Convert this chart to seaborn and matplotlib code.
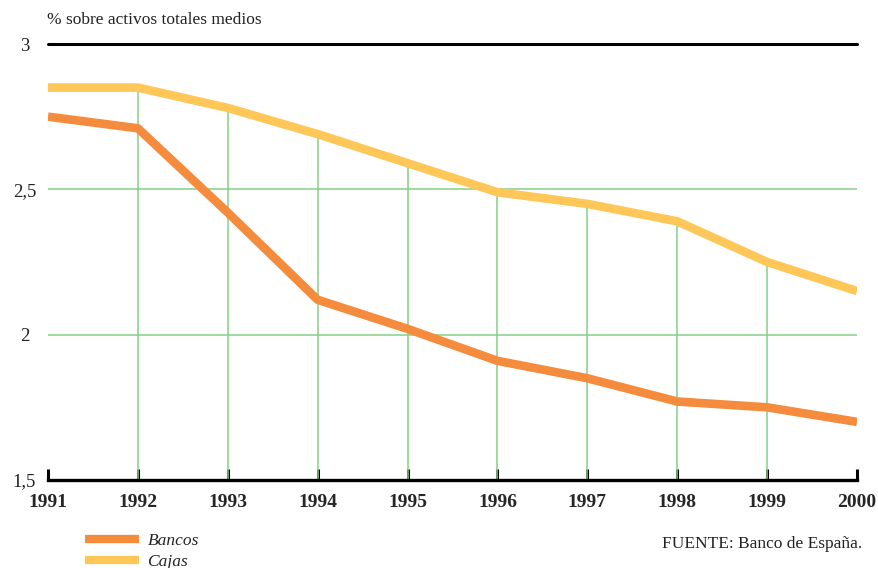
"""Rentabilidad sobre activos totales medios: Bancos vs Cajas (1991-2000)."""

import matplotlib

matplotlib.use("Agg")

import matplotlib.pyplot as plt
import seaborn as sns
import pandas as pd

years = [1991, 1992, 1993, 1994, 1995, 1996, 1997, 1998, 1999, 2000]
bancos = [2.75, 2.71, 2.42, 2.12, 2.02, 1.91, 1.85, 1.77, 1.75, 1.70]
cajas = [2.85, 2.85, 2.78, 2.69, 2.59, 2.49, 2.45, 2.39, 2.25, 2.15]
ytick_vals = [1.5, 2, 2.5, 3]
ytick_labels = ["1,5", "2", "2,5", "3"]

COLORS = {"Bancos": "#f58b3d", "Cajas": "#ffc658"}
GRID = "#86cf86"

sns.set_theme(style="white")
plt.rcParams["font.family"] = ["Liberation Serif", "DejaVu Serif"]

df = pd.DataFrame({"year": years, "Bancos": bancos, "Cajas": cajas})
long = df.melt(id_vars="year", var_name="serie", value_name="valor")

fig = plt.figure(figsize=(8.79, 5.68), dpi=100)
ax = fig.add_axes([48 / 879, 1 - 480 / 568, (857 - 48) / 879, (480 - 44) / 568])

# grid: horizontal full width, vertical up to the Cajas line
for v in ytick_vals[1:-1]:
    ax.axhline(v, color=GRID, lw=1.1, zorder=1)
ax.vlines(years[1:-1], 1.5, cajas[1:-1], color=GRID, lw=1.1, zorder=1)

sns.lineplot(
    data=long, x="year", y="valor", hue="serie", palette=COLORS,
    lw=6.2, ax=ax, legend=False, zorder=3, solid_capstyle="butt",
)

ax.axhline(3, color="black", lw=2.2, clip_on=False, zorder=4)

ax.set_xlim(1991, 2000)
ax.set_ylim(1.5, 3)
ax.set_xticks(years)
ax.set_xticklabels([str(y) for y in years], fontweight="bold", fontsize=14)
ax.set_yticks(ytick_vals)
ax.set_yticklabels(ytick_labels, fontsize=13.5, color="#222222")
for lab in ax.get_yticklabels():
    lab.set_horizontalalignment("center")
ax.tick_params(axis="y", left=True, length=0, pad=17)
ax.tick_params(axis="x", bottom=True, direction="in", length=8, width=2.2,
               color="black", pad=10)
ax.set_xlabel("")
ax.set_ylabel("")

for s in ["top", "right", "left"]:
    ax.spines[s].set_visible(False)
ax.spines["bottom"].set_color("black")
ax.spines["bottom"].set_linewidth(2.4)

fig.text(47 / 879, 1 - 20 / 568, "% sobre activos totales medios",
         fontsize=12.5, color="#222222", va="center", ha="left")

handles = [plt.Line2D([], [], color=COLORS[k], lw=6, solid_capstyle="butt")
           for k in ["Bancos", "Cajas"]]
fig.legend(handles, ["Bancos", "Cajas"], loc="upper left",
           bbox_to_anchor=(85 / 879, 1 - 533 / 568), frameon=False,
           prop={"style": "italic", "size": 12.5}, handlelength=3.1,
           handletextpad=0.5, labelspacing=0.25, borderaxespad=0, borderpad=0)

fig.text(862 / 879, 1 - 544 / 568, "FUENTE: Banco de España.",
         fontsize=12.5, color="#222222", ha="right", va="center")

fig.savefig("out.png", dpi=100)
plt.close(fig)
